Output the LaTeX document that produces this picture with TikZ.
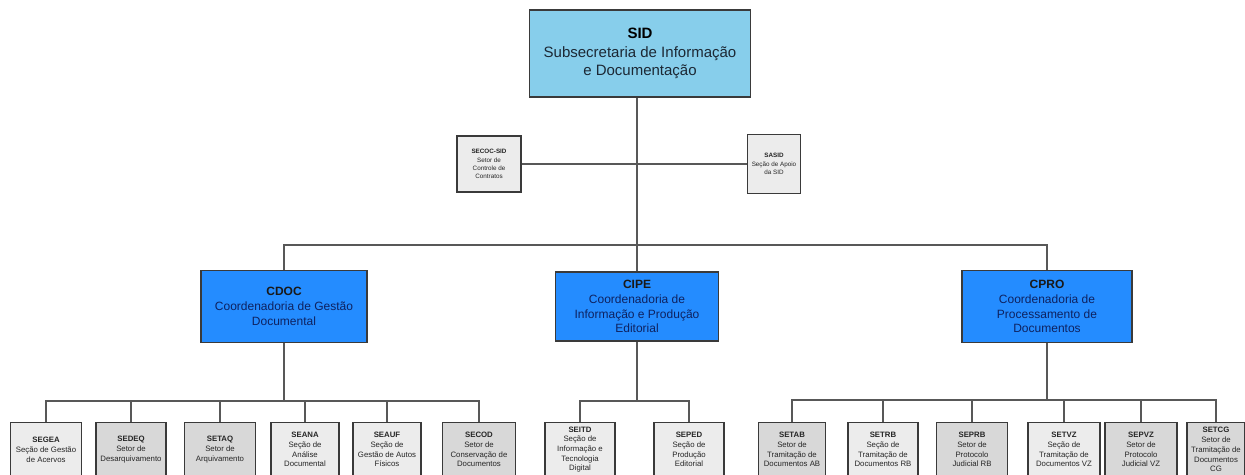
\documentclass[tikz,border=0pt]{standalone}
\usepackage{fontspec}
\setmainfont{Liberation Sans}
\definecolor{sidblue}{RGB}{135,206,235}
\definecolor{coordblue}{RGB}{36,140,255}
\definecolor{navytext}{RGB}{14,34,96}
\definecolor{sidtext}{RGB}{28,40,52}
\definecolor{unitlight}{RGB}{236,236,236}
\definecolor{unitdark}{RGB}{216,216,216}
\definecolor{boxline}{RGB}{58,58,58}
\definecolor{connline}{RGB}{88,88,88}
\tikzset{
  sidbox/.style={draw=boxline, fill=sidblue, line width=1.5pt,
    minimum width=221pt, minimum height=87pt, align=center, inner sep=0pt,
    text=sidtext, font=\fontsize{15}{18.5}\selectfont},
  coordbox/.style={draw=boxline, fill=coordblue, line width=1.5pt,
    minimum width=166pt, minimum height=72pt, align=center, inner sep=0pt,
    text=navytext, font=\fontsize{12}{14.8}\selectfont},
  staffbox/.style={draw=boxline, fill=unitlight, line width=1.3pt,
    minimum width=60pt, minimum height=57pt, align=center, inner sep=0pt,
    text=black!85, font=\fontsize{6.3}{8.2}\selectfont},
  unitbox/.style={draw=boxline, fill=unitlight, line width=1.3pt,
    minimum width=70pt, minimum height=54pt, anchor=north, align=center,
    inner sep=0pt, text=black!85, font=\fontsize{7.8}{9.7}\selectfont},
  darkunit/.style={unitbox, fill=unitdark},
  conn/.style={draw=connline, line width=1.5pt}
}
\newcommand{\hd}[1]{\textbf{#1}}
\begin{document}
\begin{tikzpicture}[x=1pt,y=-1pt]
\useasboundingbox (0,0) rectangle (1245,474);
\clip (0,0) rectangle (1245,474);
\fill[white] (0,0) rectangle (1245,474);

% top level
\node[sidbox] (SID) at (640,53.5)
  {\textcolor{black}{\hd{SID}}\\Subsecretaria de Informação\\e Documentação};

% staff units beside the trunk
\node[staffbox, minimum width=64pt, minimum height=56pt] (SECOC) at (489,164)
  {\hd{SECOC-SID}\\Setor de\\Controle de\\Contratos};
\node[staffbox, minimum width=53pt, minimum height=59pt] (SASID) at (774,164)
  {\hd{SASID}\\Seção de Apoio\\da SID};

% coordinations
\node[coordbox] (CDOC) at (284,306.5)
  {\textcolor{black!90}{\hd{CDOC}}\\Coordenadoria de Gestão\\Documental};
\node[coordbox, minimum width=163pt, minimum height=69pt] (CIPE) at (637,306.5)
  {\textcolor{black!90}{\hd{CIPE}}\\Coordenadoria de\\Informação e Produção\\Editorial};
\node[coordbox, minimum width=170pt] (CPRO) at (1047,306.5)
  {\textcolor{black!90}{\hd{CPRO}}\\Coordenadoria de\\Processamento de\\Documentos};

% sections under CDOC
\node[unitbox, minimum width=71pt] (SEGEA) at (46,422) {\hd{SEGEA}\\Seção de Gestão\\de Acervos};
\node[darkunit] (SEDEQ) at (131,422) {\hd{SEDEQ}\\Setor de\\Desarquivamento};
\node[darkunit, minimum width=71pt] (SETAQ) at (220,422) {\hd{SETAQ}\\Setor de\\Arquivamento};
\node[unitbox, minimum width=68pt] (SEANA) at (305,422) {\hd{SEANA}\\Seção de\\Análise\\Documental};
\node[unitbox, minimum width=68pt] (SEAUF) at (387,422) {\hd{SEAUF}\\Seção de\\Gestão de Autos\\Físicos};
\node[darkunit, minimum width=73pt] (SECOD) at (479,422) {\hd{SECOD}\\Setor de\\Conservação de\\Documentos};

% sections under CIPE
\node[unitbox] (SEITD) at (580,422) {\hd{SEITD}\\Seção de\\Informação e\\Tecnologia\\Digital};
\node[unitbox] (SEPED) at (689,422) {\hd{SEPED}\\Seção de\\Produção\\Editorial};

% sections under CPRO
\node[darkunit, minimum width=67pt] (SETAB) at (792,422) {\hd{SETAB}\\Setor de\\Tramitação de\\Documentos AB};
\node[unitbox] (SETRB) at (883,422) {\hd{SETRB}\\Seção de\\Tramitação de\\Documentos RB};
\node[darkunit, minimum width=71pt] (SEPRB) at (972,422) {\hd{SEPRB}\\Setor de\\Protocolo\\Judicial RB};
\node[unitbox, minimum width=72pt] (SETVZ) at (1064,422) {\hd{SETVZ}\\Seção de\\Tramitação de\\Documentos VZ};
\node[darkunit, minimum width=72pt] (SEPVZ) at (1141,422) {\hd{SEPVZ}\\Setor de\\Protocolo\\Judicial VZ};
\node[darkunit, minimum width=58pt] (SETCG) at (1216,422) {\hd{SETCG}\\Setor de\\Tramitação de\\Documentos\\CG};

% bus positions
\coordinate (topbus) at (637,245);
\coordinate (cdocbus) at (284,401);
\coordinate (cipebus) at (637,401);
\coordinate (cprobus) at (1047,400);

% connectors
\draw[conn] (SID.south -| topbus) -- (CIPE.north);
\draw[conn] (SECOC.east) -- (SASID.west);
\draw[conn] (CDOC.north) |- (topbus);
\draw[conn] (CPRO.north) |- (topbus);

\draw[conn] (CDOC.south) -- (cdocbus);
\foreach \n in {SEGEA,SEDEQ,SETAQ,SEANA,SEAUF,SECOD}
  \draw[conn] (\n.north) |- (cdocbus);

\draw[conn] (CIPE.south) -- (cipebus);
\foreach \n in {SEITD,SEPED}
  \draw[conn] (\n.north) |- (cipebus);

\draw[conn] (CPRO.south) -- (cprobus);
\foreach \n in {SETAB,SETRB,SEPRB,SETVZ,SEPVZ,SETCG}
  \draw[conn] (\n.north) |- (cprobus);
\end{tikzpicture}
\end{document}
